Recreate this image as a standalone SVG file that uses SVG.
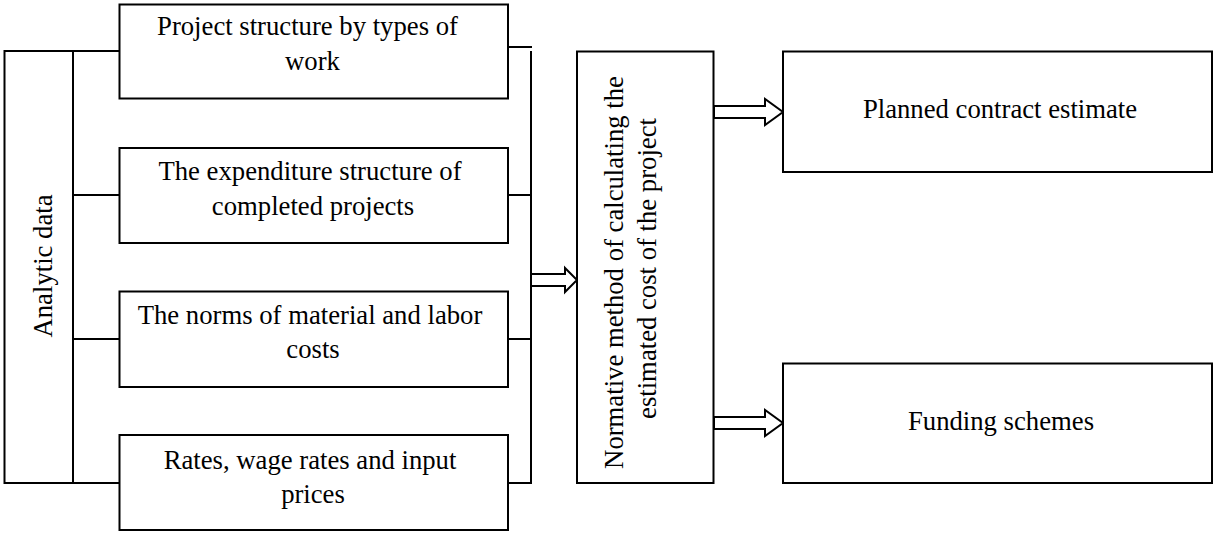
<svg xmlns="http://www.w3.org/2000/svg" width="1218" height="534" viewBox="0 0 1218 534">
<style>
.box{fill:#fff;stroke:#000;stroke-width:2}
.ln{fill:none;stroke:#000;stroke-width:2}
.arr{fill:#fff;stroke:#000;stroke-width:2;stroke-linejoin:miter}
text{font-family:"Liberation Serif","Times New Roman",serif;font-size:26.7px;fill:#000;text-anchor:middle}
</style>
<rect width="1218" height="534" fill="#fff"/>
<g id="connectors">
<path class="ln" d="M73,51 V483 M73,51 H119 M73,195 H119 M73,339 H119 M73,483 H119"/>
<path class="ln" d="M508,47 H532 M531,51 V483 M508,195 H531 M508,339 H531 M508,483 H532"/>
<polygon class="arr" points="531,274 565,274 565,268 577,280 565,292 565,286 531,286"/>
<polygon class="arr" points="714,106 765,106 765,99 783,112 765,125 765,118 714,118"/>
<polygon class="arr" points="714,417 765,417 765,410 783,423 765,436 765,429 714,429"/>
</g>
<g id="analytic">
<rect class="box" x="4.5" y="51" width="68.5" height="432"/>
<text transform="translate(51.5,266) rotate(-90)">Analytic data</text>
</g>
<g id="box1">
<rect class="box" x="119.5" y="4.5" width="388.5" height="94"/>
<text x="307.5" y="35">Project structure by types of</text>
<text x="312.5" y="70">work</text>
</g>
<g id="box2">
<rect class="box" x="119.5" y="148" width="388.5" height="95"/>
<text x="310" y="180">The expenditure structure of</text>
<text x="313" y="215">completed projects</text>
</g>
<g id="box3">
<rect class="box" x="119.5" y="291.5" width="388.5" height="95.5"/>
<text x="310" y="324">The norms of material and labor</text>
<text x="313" y="358">costs</text>
</g>
<g id="box4">
<rect class="box" x="119.5" y="435" width="388.5" height="95"/>
<text x="310" y="469">Rates, wage rates and input</text>
<text x="313" y="503">prices</text>
</g>
<g id="normative">
<rect class="box" x="577" y="51.5" width="136.5" height="431.5"/>
<text transform="translate(623,272.5) rotate(-90)">Normative method of calculating the</text>
<text transform="translate(656,268.5) rotate(-90)">estimated cost of the project</text>
</g>
<g id="planned">
<rect class="box" x="783" y="51.5" width="429" height="120.5"/>
<text x="1000" y="118">Planned contract estimate</text>
</g>
<g id="funding">
<rect class="box" x="783" y="363.5" width="429" height="119.5"/>
<text x="1001" y="430">Funding schemes</text>
</g>
</svg>
